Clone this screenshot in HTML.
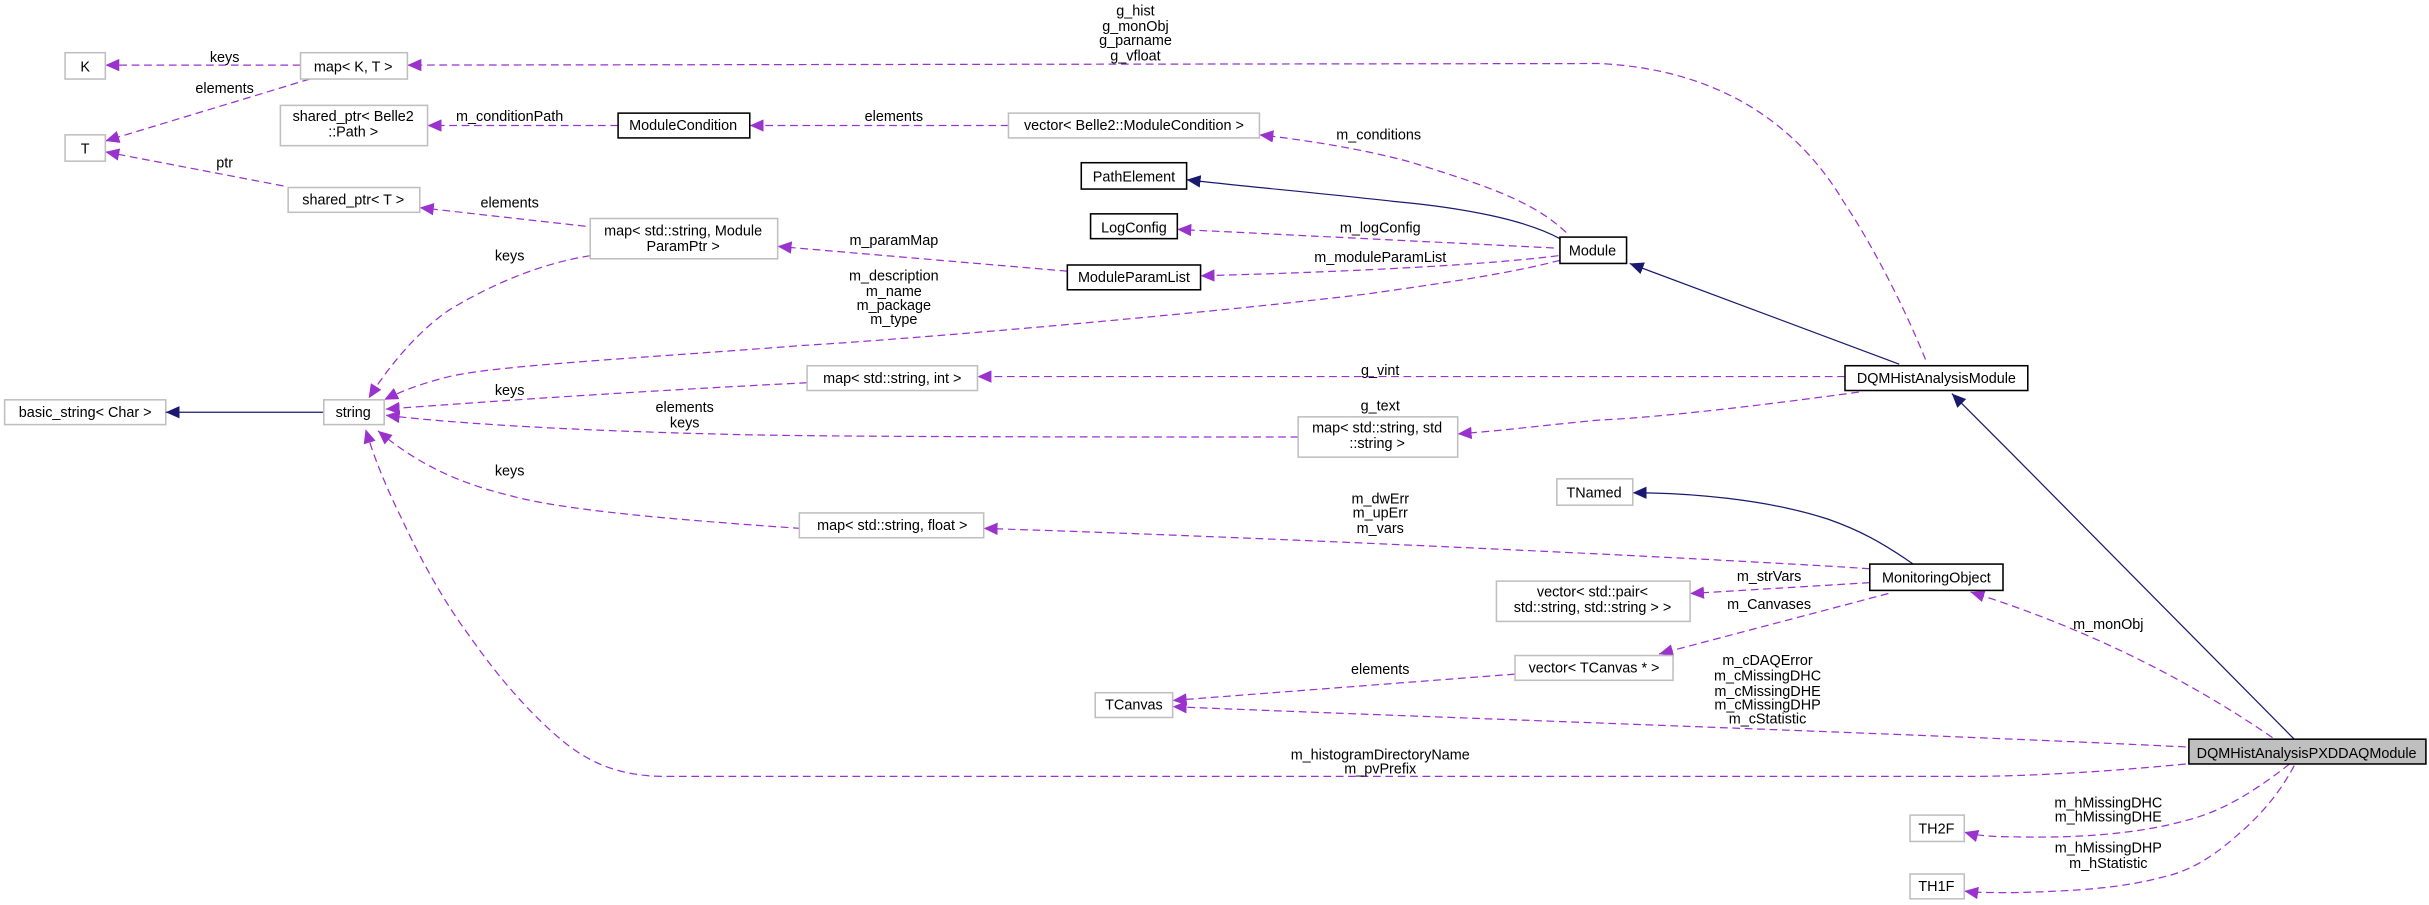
<!DOCTYPE html>
<html><head><meta charset="utf-8"><style>
html,body{margin:0;padding:0;background:#fff;}
svg{display:block;}
text{font-family:"Liberation Sans",sans-serif;font-size:9.3px;fill:#000;}
.g{fill:#fff;stroke:#bfbfbf;stroke-width:1;}
.b{fill:#fff;stroke:#000;stroke-width:1;}
.d{fill:none;stroke:#9a32cd;stroke-width:0.8;stroke-dasharray:5,3;}
.s{fill:none;stroke:#191970;stroke-width:0.8;}
</style></head><body>
<svg width="2429" height="905" viewBox="0 0 1568 584" preserveAspectRatio="none" xmlns="http://www.w3.org/2000/svg">
<defs>
<marker id="p" markerUnits="userSpaceOnUse" markerWidth="10" markerHeight="8" refX="9" refY="4" orient="auto"><path d="M0,0 L9,4 L0,8 Z" fill="#9a32cd"/></marker>
<marker id="n" markerUnits="userSpaceOnUse" markerWidth="10" markerHeight="8" refX="9" refY="4" orient="auto"><path d="M0,0 L9,4 L0,8 Z" fill="#191970"/></marker>
</defs>

<!-- edges -->
<path class="d" marker-end="url(#p)" d="M194,42 L68,42"/>
<path class="d" marker-end="url(#p)" d="M200,51 L68,91"/>
<path class="d" marker-end="url(#p)" d="M183,120 L68,98"/>
<path class="d" marker-end="url(#p)" d="M399,81 L276,81"/>
<path class="d" marker-end="url(#p)" d="M651,81 L484,81"/>
<path class="d" marker-end="url(#p)" d="M1011,150 C990,130 960,120 912,105 C880,96 840,90 813,87"/>
<path class="s" marker-end="url(#n)" d="M1007,154 C985,142 945,134 900,130 C846,124 800,120 766,116"/>
<path class="d" marker-end="url(#p)" d="M1003,160 L760,148"/>
<path class="d" marker-end="url(#p)" d="M1006,165 C950,172 850,176 775,178"/>
<path class="d" marker-end="url(#p)" d="M689,175 L502,159"/>
<path class="d" marker-end="url(#p)" d="M378,146 L271,134"/>
<path class="d" marker-end="url(#p)" d="M1007,168 C980,175 945,181 880,190 C780,202 600,218 517,223 C400,232 320,236 290,243 C270,248 258,253 248,258"/>
<path class="d" marker-end="url(#p)" d="M381,165 C350,170 320,182 290,200 C268,215 250,238 238,257"/>
<path class="s" marker-end="url(#n)" d="M1226,235 L1052,170"/>
<path class="d" marker-end="url(#p)" d="M1243,232 C1230,200 1210,160 1190,130 C1160,80 1110,45 1033,41 L263,42"/>
<path class="d" marker-end="url(#p)" d="M1191,243 L631,243"/>
<path class="d" marker-end="url(#p)" d="M1200,253 C1120,264 1060,270 1033,271 C1000,274 970,278 941,280"/>
<path class="d" marker-end="url(#p)" d="M521,247 C420,252 330,258 249,264"/>
<path class="d" marker-end="url(#p)" d="M838,282 C700,282 520,282 460,280 C380,278 300,274 249,268"/>
<path class="d" marker-end="url(#p)" d="M517,341 C430,335 363,329 330,320 C297,312 270,300 244,278"/>
<path class="s" marker-end="url(#n)" d="M1235,364 C1215,350 1200,342 1180,335 C1140,322 1090,318 1054,318"/>
<path class="d" marker-end="url(#p)" d="M1207,367 C1100,360 800,346 635,341"/>
<path class="d" marker-end="url(#p)" d="M1207,376 L1091,383"/>
<path class="d" marker-end="url(#p)" d="M1219,383 L1071,422"/>
<path class="d" marker-end="url(#p)" d="M978,435 L757,452"/>
<path class="d" marker-end="url(#p)" d="M1411,482 C1250,474 900,462 757,456"/>
<path class="s" marker-end="url(#n)" d="M1296,290 L1260,254"/>
<path class="s" d="M1481,477 L1296,290"/>
<path class="d" marker-end="url(#p)" d="M1467,476 C1400,430 1330,400 1272,382"/>
<path class="d" marker-end="url(#p)" d="M1411,493 C1350,499 1300,501 1272,501 L429,501 C400,501 380,492 363,478 C330,450 310,420 297,402 C275,370 262,340 257,330 C245,305 240,290 236,277"/>
<path class="d" marker-end="url(#p)" d="M1478,493 C1450,515 1430,525 1409,530 C1380,538 1341,541 1300,540 C1285,540 1275,539 1268,537"/>
<path class="d" marker-end="url(#p)" d="M1481,494 C1470,515 1455,530 1443,540 C1425,556 1410,563 1396,566 C1370,573 1341,575 1300,576 C1285,576 1275,576 1268,575"/>

<!-- nodes -->
<rect class="g" x="42" y="34" width="26" height="17"/><text x="55" y="46" text-anchor="middle">K</text>
<rect class="g" x="194" y="34" width="69" height="17"/><text x="228" y="46" text-anchor="middle">map&lt; K, T &gt;</text>
<rect class="g" x="42" y="87" width="26" height="17"/><text x="55" y="99" text-anchor="middle">T</text>
<rect class="g" x="181" y="68" width="95" height="26"/><text x="228" y="78" text-anchor="middle">shared_ptr&lt; Belle2</text><text x="228" y="88" text-anchor="middle">::Path &gt;</text>
<rect class="b" x="399" y="73" width="85" height="16"/><text x="441" y="84" text-anchor="middle">ModuleCondition</text>
<rect class="g" x="651" y="73" width="162" height="16"/><text x="732" y="84" text-anchor="middle">vector&lt; Belle2::ModuleCondition &gt;</text>
<rect class="b" x="698" y="105" width="68" height="17"/><text x="732" y="117" text-anchor="middle">PathElement</text>
<rect class="b" x="704" y="138" width="56" height="16"/><text x="732" y="150" text-anchor="middle">LogConfig</text>
<rect class="g" x="186" y="121" width="85" height="16"/><text x="228" y="132" text-anchor="middle">shared_ptr&lt; T &gt;</text>
<rect class="g" x="381" y="141" width="121" height="26"/><text x="441" y="152" text-anchor="middle">map&lt; std::string, Module</text><text x="441" y="162" text-anchor="middle">ParamPtr &gt;</text>
<rect class="b" x="689" y="171" width="86" height="16"/><text x="732" y="182" text-anchor="middle">ModuleParamList</text>
<rect class="b" x="1007" y="153" width="43" height="17"/><text x="1028" y="165" text-anchor="middle">Module</text>
<rect class="b" x="1191" y="236" width="118" height="16"/><text x="1250" y="247" text-anchor="middle">DQMHistAnalysisModule</text>
<rect class="g" x="3" y="258" width="104" height="16"/><text x="55" y="269" text-anchor="middle">basic_string&lt; Char &gt;</text>
<path class="s" marker-end="url(#n)" d="M209,266 L107,266"/>
<rect class="g" x="209" y="258" width="39" height="16"/><text x="228" y="269" text-anchor="middle">string</text>
<rect class="g" x="521" y="236" width="110" height="16"/><text x="576" y="247" text-anchor="middle">map&lt; std::string, int &gt;</text>
<rect class="g" x="838" y="269" width="103" height="26"/><text x="889" y="279" text-anchor="middle">map&lt; std::string, std</text><text x="889" y="289" text-anchor="middle">::string &gt;</text>
<rect class="g" x="1005" y="309" width="49" height="17"/><text x="1029" y="321" text-anchor="middle">TNamed</text>
<rect class="g" x="516" y="331" width="119" height="16"/><text x="576" y="342" text-anchor="middle">map&lt; std::string, float &gt;</text>
<rect class="b" x="1207" y="364" width="86" height="17"/><text x="1250" y="376" text-anchor="middle">MonitoringObject</text>
<rect class="g" x="966" y="375" width="125" height="26"/><text x="1028" y="385" text-anchor="middle">vector&lt; std::pair&lt;</text><text x="1028" y="395" text-anchor="middle">std::string, std::string &gt; &gt;</text>
<rect class="g" x="978" y="423" width="102" height="16"/><text x="1029" y="434" text-anchor="middle">vector&lt; TCanvas * &gt;</text>
<rect class="g" x="707" y="447" width="50" height="16"/><text x="732" y="458" text-anchor="middle">TCanvas</text>
<rect x="1413" y="477" width="153" height="16" fill="#bfbfbf" stroke="#000" stroke-width="1"/><text x="1489" y="489" text-anchor="middle">DQMHistAnalysisPXDDAQModule</text>
<rect class="g" x="1233" y="526" width="35" height="17"/><text x="1250" y="538" text-anchor="middle">TH2F</text>
<rect class="g" x="1233" y="564" width="35" height="16"/><text x="1250" y="575" text-anchor="middle">TH1F</text>

<!-- labels -->
<g text-anchor="middle">
<text x="145" y="40">keys</text>
<text x="145" y="60">elements</text>
<text x="145" y="108">ptr</text>
<text x="329" y="78">m_conditionPath</text>
<text x="329" y="134">elements</text>
<text x="329" y="168">keys</text>
<text x="329" y="255">keys</text>
<text x="442" y="266">elements</text><text x="442" y="276">keys</text>
<text x="329" y="307">keys</text>
<text x="733" y="10">g_hist</text><text x="733" y="20">g_monObj</text><text x="733" y="29">g_parname</text><text x="733" y="39">g_vfloat</text>
<text x="577" y="78">elements</text>
<text x="890" y="90">m_conditions</text>
<text x="891" y="150">m_logConfig</text>
<text x="891" y="169">m_moduleParamList</text>
<text x="577" y="158">m_paramMap</text>
<text x="577" y="181">m_description</text><text x="577" y="191">m_name</text><text x="577" y="200">m_package</text><text x="577" y="209">m_type</text>
<text x="891" y="242">g_vint</text>
<text x="891" y="265">g_text</text>
<text x="891" y="325">m_dwErr</text><text x="891" y="334">m_upErr</text><text x="891" y="344">m_vars</text>
<text x="1142" y="375">m_strVars</text>
<text x="1142" y="393">m_Canvases</text>
<text x="891" y="435">elements</text>
<text x="1141" y="429">m_cDAQError</text><text x="1141" y="439">m_cMissingDHC</text><text x="1141" y="449">m_cMissingDHE</text><text x="1141" y="458">m_cMissingDHP</text><text x="1141" y="467">m_cStatistic</text>
<text x="1361" y="406">m_monObj</text>
<text x="891" y="490">m_histogramDirectoryName</text><text x="891" y="499">m_pvPrefix</text>
<text x="1361" y="521">m_hMissingDHC</text><text x="1361" y="530">m_hMissingDHE</text>
<text x="1361" y="550">m_hMissingDHP</text><text x="1361" y="560">m_hStatistic</text>
</g>
</svg>
</body></html>
